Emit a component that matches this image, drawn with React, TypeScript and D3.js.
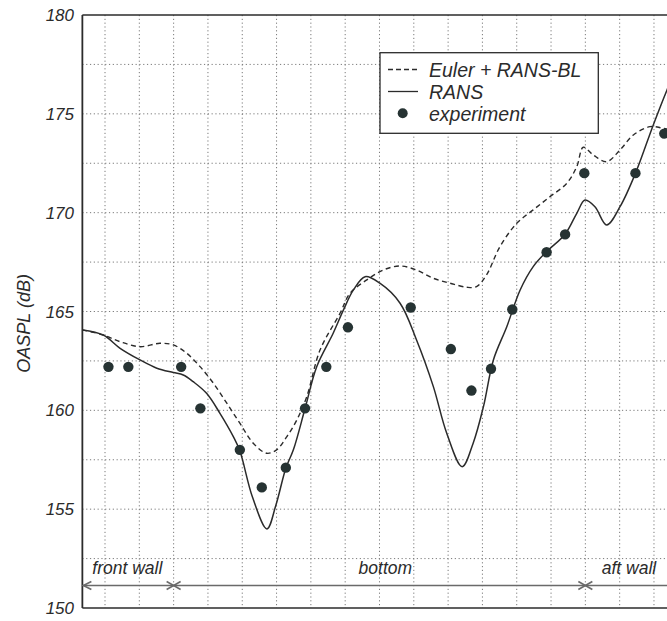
import React from "react";
import * as d3 from "d3";

// Y axis ticks (dB) and horizontal grid spacing
const yTicks = [150, 155, 160, 165, 170, 175, 180];
const yGrid = [152.5, 155, 157.5, 160, 162.5, 165, 167.5, 170, 172.5, 175, 177.5];
// Vertical grid positions along the cavity surface coordinate
const xGrid = d3.range(1, 19);

// Measured OASPL
const expS = [1.1, 1.68, 3.22, 3.78, 4.93, 5.57, 6.27, 6.83, 7.45, 8.08, 9.91, 11.08, 11.68, 12.25, 12.87, 13.87, 14.41, 14.97, 16.46, 17.3];
const expDb = [162.2, 162.2, 162.2, 160.1, 158.0, 156.1, 157.1, 160.1, 162.2, 164.2, 165.2, 163.1, 161.0, 162.1, 165.1, 168.0, 168.9, 172.0, 172.0, 174.0];

// Euler + RANS-BL prediction
const eulerS = [0.34, 0.95, 1.44, 2.02, 2.6, 2.99, 3.38, 3.77, 4.16, 4.55, 4.93, 5.32, 5.71, 6.0, 6.3, 6.59, 6.88, 7.27, 7.85, 8.14, 8.63, 9.11, 9.6, 10.08, 10.57, 11.06, 11.54, 11.83, 12.12, 12.51, 13.0, 13.48, 13.97, 14.46, 14.75, 14.94, 15.23, 15.62, 16.01, 16.4, 16.88, 17.27, 17.76, 18.3];
const eulerDb = [164.07, 163.81, 163.47, 163.22, 163.39, 163.31, 162.89, 162.21, 161.37, 160.36, 159.35, 158.34, 157.83, 158.0, 158.67, 159.51, 160.69, 163.06, 164.91, 165.92, 166.6, 167.1, 167.3, 167.1, 166.68, 166.43, 166.23, 166.26, 166.85, 168.28, 169.46, 170.14, 170.81, 171.49, 172.33, 173.31, 172.92, 172.58, 173.17, 173.93, 174.35, 174.27, 174.08, 174.0];

// RANS prediction
const ransS = [0.34, 0.95, 1.44, 2.02, 2.51, 2.99, 3.28, 3.57, 3.96, 4.35, 4.74, 4.93, 5.3, 5.72, 5.98, 6.27, 6.49, 6.83, 7.17, 7.65, 7.95, 8.24, 8.58, 9.01, 9.6, 10.08, 10.57, 10.96, 11.41, 11.73, 12.03, 12.32, 12.71, 13.1, 13.48, 13.87, 14.41, 14.75, 14.99, 15.28, 15.62, 16.01, 16.46, 16.98, 17.38, 17.76];
const ransDb = [164.07, 163.81, 163.14, 162.55, 162.13, 161.91, 161.79, 161.45, 160.86, 159.85, 158.67, 157.95, 155.6, 154.0, 155.2, 157.07, 158.0, 160.09, 162.21, 163.9, 165.08, 166.09, 166.76, 166.43, 165.42, 163.56, 161.2, 158.84, 157.15, 158.34, 160.19, 162.55, 164.23, 166.09, 167.27, 168.03, 168.91, 169.97, 170.64, 170.3, 169.38, 170.3, 171.99, 174.44, 176.21, 177.72];

// Surface regions along the cavity
const regionBounds = [3, 15];
const regionLabels = [
  { text: "front wall", s: 1.65 },
  { text: "bottom", s: 9.17 },
  { text: "aft wall", s: 16.27 },
];

const legendItems = ["Euler + RANS-BL", "RANS", "experiment"];

const W = 667;
const H = 621;
const sMin = 0.34;
const sMax = 19;

const x = d3.scaleLinear().domain([0, 17]).range([70.7, 70.7 + 17 * 34.31]);
const y = d3.scaleLinear().domain([150, 180]).range([608, 15]);

const FONT = "'Liberation Sans', Arial, Helvetica, sans-serif";
const INK = "#2b2b2b";
const GRID = "#7a7a7a";

export default function App() {
  const line = d3
    .line<[number, number]>()
    .x((d) => x(d[0]))
    .y((d) => y(d[1]))
    .curve(d3.curveCatmullRom.alpha(0.5));

  const eulerPath = line(eulerS.map((s, i) => [s, eulerDb[i]]))!;
  const ransPath = line(ransS.map((s, i) => [s, ransDb[i]]))!;

  const left = x(sMin);
  const right = x(sMax);
  const arrowY = 585.5;

  return (
    <div style={{ position: "absolute", left: 0, top: 0 }}>
      <svg width={W} height={H} style={{ display: "block", background: "#fff" }}>
        <defs>
          <clipPath id="plot">
            <rect x={left} y={y(180)} width={right - left} height={y(150) - y(180)} />
          </clipPath>
        </defs>

        {/* grid */}
        <g stroke={GRID} strokeWidth={1} strokeDasharray="1.2,2.6">
          {yGrid.map((v) => (
            <line key={"h" + v} x1={left} x2={right} y1={y(v)} y2={y(v)} />
          ))}
          {xGrid.map((s) => (
            <line key={"v" + s} x1={x(s)} x2={x(s)} y1={y(180)} y2={y(150)} />
          ))}
        </g>

        {/* frame */}
        <line x1={left} x2={right} y1={y(180)} y2={y(180)} stroke={INK} strokeWidth={1.6} />
        <line x1={left} x2={right} y1={y(150)} y2={y(150)} stroke={INK} strokeWidth={1.6} />
        <line x1={left} x2={left} y1={y(180)} y2={y(150)} stroke={INK} strokeWidth={1.8} />

        {/* y tick labels */}
        {yTicks.map((v) => (
          <text
            key={v}
            x={74}
            y={y(v)}
            dy="0.36em"
            textAnchor="end"
            fontFamily={FONT}
            fontStyle="italic"
            fontSize={17}
            fill={INK}
          >
            {v}
          </text>
        ))}
        <text
          transform={`translate(30,${y(164.4)}) rotate(-90)`}
          textAnchor="middle"
          fontFamily={FONT}
          fontStyle="italic"
          fontSize={18}
          fill={INK}
        >
          OASPL (dB)
        </text>

        {/* region extents */}
        <g stroke="#6a6a6a" fill="none" strokeWidth={1.6}>
          <line x1={left} x2={right} y1={arrowY} y2={arrowY} />
          <polyline points={`${left + 9},${arrowY - 4} ${left + 1},${arrowY} ${left + 9},${arrowY + 4}`} />
          {regionBounds.map((s) => (
            <g key={s}>
              <line x1={x(s) - 7} x2={x(s) + 7} y1={arrowY - 4} y2={arrowY + 4} />
              <line x1={x(s) - 7} x2={x(s) + 7} y1={arrowY + 4} y2={arrowY - 4} />
            </g>
          ))}
        </g>
        {regionLabels.map((r) => (
          <text
            key={r.text}
            x={x(r.s)}
            y={574}
            textAnchor="middle"
            fontFamily={FONT}
            fontStyle="italic"
            fontSize={17.5}
            fill={INK}
          >
            {r.text}
          </text>
        ))}

        {/* curves and measurements */}
        <g clipPath="url(#plot)">
          <path d={eulerPath} fill="none" stroke={INK} strokeWidth={1.4} strokeDasharray="5,3.5" />
          <path d={ransPath} fill="none" stroke={INK} strokeWidth={1.5} />
          {expS.map((s, i) => (
            <circle key={i} cx={x(s)} cy={y(expDb[i])} r={5.2} fill="#263333" />
          ))}
        </g>

        {/* legend */}
        <g>
          <rect x={380} y={52.7} width={218.3} height={80.6} fill="#fff" stroke={INK} strokeWidth={1.3} />
          <line x1={388} x2={418} y1={69.5} y2={69.5} stroke={INK} strokeWidth={1.3} strokeDasharray="5,3" />
          <line x1={388} x2={418} y1={91.5} y2={91.5} stroke={INK} strokeWidth={1.3} />
          <circle cx={402.7} cy={113.3} r={5} fill="#263333" />
          {legendItems.map((t, i) => (
            <text
              key={t}
              x={429}
              y={69.5 + i * 22}
              dy="0.36em"
              fontFamily={FONT}
              fontStyle="italic"
              fontSize={19.5}
              fill={INK}
            >
              {t}
            </text>
          ))}
        </g>
      </svg>
    </div>
  );
}
